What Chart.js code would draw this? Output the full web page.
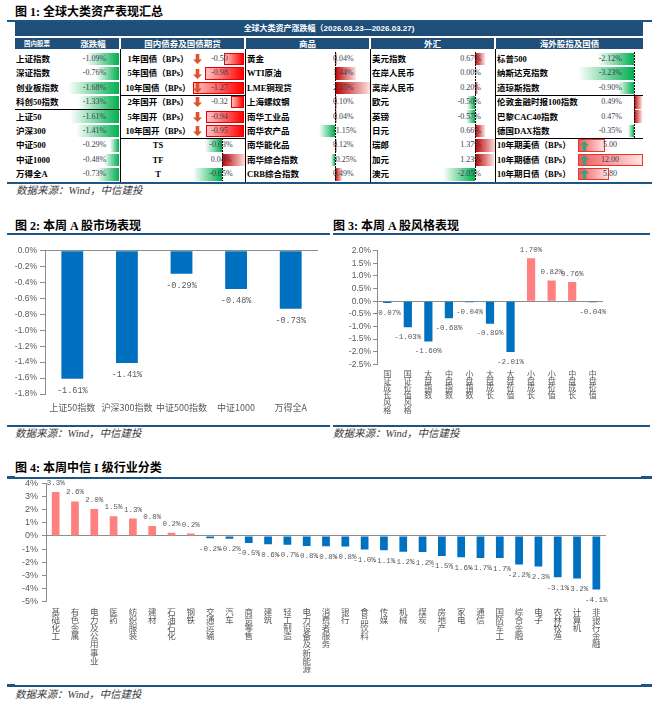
<!DOCTYPE html>
<html><head><meta charset="utf-8">
<script src="https://cdn.jsdelivr.net/npm/chart.js@4.4.1/dist/chart.umd.min.js"></script>
<style>
html,body{margin:0;padding:0;background:#fff;}
body{width:652px;height:706px;position:relative;overflow:hidden;font-family:'Noto Sans CJK SC',sans-serif;}
.abs{position:absolute;box-sizing:border-box;}
.abs svg{display:block;}
.title{position:absolute;font-weight:700;font-size:12px;color:#000;white-space:nowrap;font-family:'Liberation Serif','Noto Sans CJK SC',serif;line-height:14px;}
.rule{position:absolute;height:2px;background:#1f5582;}
.src{position:absolute;font-style:italic;font-size:10.5px;color:#3a3a3a;white-space:nowrap;line-height:11px;font-family:'Liberation Serif','Noto Sans CJK SC',serif;}
canvas{position:absolute;}
</style>
</head>
<body>
<div class="title" style="left:15px;top:5px">图 1: 全球大类资产表现汇总</div>
<div class="rule" style="left:7px;top:20px;width:645px"></div>
<div id="tbl"></div>
<div class="rule" style="left:7px;top:181.5px;width:645px"></div>
<div class="src" style="left:16px;top:184.5px">数据来源：Wind，中信建投</div>

<div class="title" style="left:15px;top:218.7px">图 2: 本周 A 股市场表现</div>
<div class="rule" style="left:7px;top:233px;width:323px"></div>
<div class="title" style="left:333px;top:218.7px">图 3: 本周 A 股风格表现</div>
<div class="rule" style="left:333px;top:233px;width:317px"></div>
<canvas id="c2" width="330" height="186" style="left:0px;top:236px"></canvas>
<canvas id="c3" width="327" height="186" style="left:325px;top:236px"></canvas>
<div class="rule" style="left:7px;top:424.5px;width:323px"></div>
<div class="rule" style="left:333px;top:424.5px;width:317px"></div>
<div class="src" style="left:15px;top:427.5px">数据来源：Wind，中信建投</div>
<div class="src" style="left:333px;top:427.5px">数据来源：Wind，中信建投</div>

<div class="title" style="left:15px;top:461.3px">图 4: 本周中信 I 级行业分类</div>
<div class="rule" style="left:7px;top:476.5px;width:645px"></div>
<div class="rule" style="left:7px;top:475.5px;width:8px;height:3px"></div>
<div class="rule" style="left:641px;top:475.5px;width:11px;height:3px"></div>
<canvas id="c4" width="652" height="214" style="left:0px;top:470px"></canvas>
<div class="rule" style="left:7px;top:685px;width:645px"></div>
<div class="rule" style="left:7px;top:684px;width:8px;height:3px"></div>
<div class="rule" style="left:641px;top:684px;width:11px;height:3px"></div>
<div class="src" style="left:15px;top:688.5px">数据来源：Wind，中信建投</div>

<script>
// ================= DATA =================
const tableTitle = '全球大类资产涨跌幅（2026.03.23—2026.03.27)';
const tableHeaders = ['国内股票', '涨跌幅', '国内债券及国债期货', '商品', '外汇', '海外股指及国债'];

const stockNames = ['上证指数', '深证指数', '创业板指数', '科创50指数', '上证50', '沪深300', '中证500', '中证1000', '万得全A'];
const stockValues = [-1.09, -0.76, -1.68, -1.33, -1.61, -1.41, -0.29, -0.48, -0.73];

const bondNames = ['1年国债（BPs）', '5年国债（BPs）', '10年国债（BPs）', '2年国开（BPs）', '5年国开（BPs）', '10年国开（BPs）'];
const bondValues = [-0.50, -0.98, -1.27, -0.32, -0.94, -0.95];
const futuresNames = ['TS', 'TF', 'T'];
const futuresValues = [-0.03, 0.04, -0.05];

const commodityNames = ['黄金', 'WTI原油', 'LME铜现货', '上海螺纹钢', '南华工业品', '南华农产品', '南华能化品', '南华综合指数', 'CRB综合指数'];
const commodityValues = [0.04, 1.44, 2.45, 0.10, 0.04, -1.15, 0.12, -0.25, 0.49];

const fxNames = ['美元指数', '在岸人民币', '离岸人民币', '欧元', '英镑', '日元', '瑞郎', '加元', '澳元'];
const fxValues = [0.67, 0.00, 0.20, -0.50, -0.57, 0.66, 1.37, 1.23, -2.05];

const overseasNames = ['标普500', '纳斯达克指数', '道琼斯指数', '伦敦金融时报100指数', '巴黎CAC40指数', '德国DAX指数'];
const overseasValues = [-2.12, -3.23, -0.90, 0.49, 0.47, -0.35];
const overseasBondNames = ['10年期美债（BPs）', '10年期德债（BPs）', '10年期日债（BPs）'];
const overseasBondValues = [5.00, 12.00, 5.80];

const fig2Categories = ['上证50指数', '沪深300指数', '中证500指数', '中证1000', '万得全A'];
const fig2Values = [-1.61, -1.41, -0.29, -0.48, -0.73];

const fig3Categories = ['国证成长风格', '国证价值风格', '大盘指数', '中盘指数', '小盘指数', '大盘成长', '大盘价值', '小盘成长', '小盘价值', '中盘成长', '中盘价值'];
const fig3Values = [-0.07, -1.03, -1.60, -0.68, -0.04, -0.89, -2.01, 1.70, 0.82, 0.76, -0.04];

const fig4Categories = ['基础化工', '有色金属', '电力及公用事业', '医药', '纺织服装', '建材', '石油石化', '钢铁', '交通运输', '汽车', '商贸零售', '建筑', '轻工制造', '电力设备及新能源', '消费者服务', '银行', '食品饮料', '传媒', '机械', '煤炭', '房地产', '家电', '通信', '国防军工', '综合金融', '电子', '农林牧渔', '计算机', '非银行金融'];
const fig4Values = [3.34, 2.62, 2.04, 1.50, 1.32, 0.76, 0.24, 0.18, -0.18, -0.21, -0.53, -0.63, -0.68, -0.76, -0.78, -0.80, -1.03, -1.09, -1.21, -1.23, -1.52, -1.62, -1.67, -1.68, -2.17, -2.32, -3.14, -3.24, -4.08];

// ================= TABLE (HTML) =================
const root = document.getElementById('tbl');
const NAVY = '#1f4e79';
const VALCOL = '#3b3b50';
const ROW0 = 51.9, RH = 14.4;
const rowTop = i => ROW0 + i * RH;
const GREEN_L = 'linear-gradient(to right, #ffffff, #00b050)';   // negative bar, axis on right
const RED_R = 'linear-gradient(to right, #c00000, #fbe2e2)';     // positive bar, axis on left

function box(x, y, w, h, style) {
  const d = document.createElement('div');
  d.className = 'abs';
  Object.assign(d.style, {left: x + 'px', top: y + 'px', width: w + 'px', height: h + 'px'}, style || {});
  root.appendChild(d);
  return d;
}
function txt(s, x, y, w, h, align, style) {
  const d = box(x, y, w, h, Object.assign({lineHeight: h + 'px', textAlign: align, whiteSpace: 'nowrap'}, style || {}));
  d.textContent = s;
  return d;
}
const nameStyle = {fontFamily: "'Liberation Serif','Noto Sans CJK SC',serif", fontWeight: '700', fontSize: '8.5px', color: '#000'};
const valStyle = {fontFamily: "'Liberation Serif',serif", fontSize: '8px', color: VALCOL};
function dashed(x, y1, y2) {
  box(x, y1, 1, y2 - y1, {background: 'repeating-linear-gradient(to bottom, #000 0px, #000 2px, transparent 2px, transparent 3px)'});
}
function hline(x1, x2, y) { box(x1, y, x2 - x1, 1, {background: '#000'}); }
function vline(x, y1, y2) { box(x, y1, 1, y2 - y1, {background: '#000'}); }
function arrow(x, y, up) {
  const d = box(x, y, 9, 10, {overflow: 'hidden'});
  const color = up ? '#3f9f7a' : '#e0522a';
  const path = up ? 'M4.5 0 L9 4.5 L6.3 4.5 L6.3 10 L2.7 10 L2.7 4.5 L0 4.5 Z' : 'M2.7 0 L6.3 0 L6.3 5.5 L9 5.5 L4.5 10 L0 5.5 L2.7 5.5 Z';
  d.innerHTML = '<svg width="9" height="10" viewBox="0 0 9 10"><path d="' + path + '" fill="' + color + '"/></svg>';
}
function dataBar(axisX, i, v, pxPer) {
  const w = Math.max(Math.abs(v) * pxPer, v === 0 ? 0 : 1.5);
  if (w === 0) return;
  const y = rowTop(i) + 0.8, h = RH - 1.6;
  if (v < 0) box(axisX - w, y, w, h, {background: GREEN_L});
  else box(axisX, y, w, h, {background: RED_R});
}

// headers
box(15, 22.3, 628, 14.2, {background: NAVY});
txt(tableTitle, 15, 22.3, 628, 14.2, 'center', {color: '#fff', fontWeight: '700', fontSize: '8px', fontFamily: "'Liberation Sans','Noto Sans CJK SC',sans-serif"});
const hdrSegs = [[15, 119], [121, 244], [246, 369], [371, 494], [496, 643]];
hdrSegs.forEach(s => box(s[0], 37.5, s[1] - s[0], 11.5, {background: NAVY}));
const hdrWhite = {color: '#fff', fontWeight: '700', fontSize: '8.5px'};
txt(tableHeaders[0], 15, 37.5, 44, 11.5, 'center', Object.assign({}, hdrWhite, {fontSize: '6.5px'}));
txt(tableHeaders[1], 70, 37.5, 46, 11.5, 'center', hdrWhite);
txt(tableHeaders[2], 121, 37.5, 123, 11.5, 'center', hdrWhite);
txt(tableHeaders[3], 246, 37.5, 123, 11.5, 'center', hdrWhite);
txt(tableHeaders[4], 371, 37.5, 123, 11.5, 'center', hdrWhite);
txt(tableHeaders[5], 496, 37.5, 147, 11.5, 'center', hdrWhite);

// domestic stocks
stockNames.forEach((n, i) => txt(n, 16, rowTop(i), 60, RH, 'left', nameStyle));
stockValues.forEach((v, i) => {
  const w = Math.abs(v) * 30.5;
  box(119 - w, rowTop(i) + 0.8, w, RH - 1.6, {background: GREEN_L});
  txt(v.toFixed(2) + '%', 70, rowTop(i), 49, RH, 'center', valStyle);
});

// domestic bonds
bondNames.forEach((n, i) => txt(n, 122, rowTop(i), 72, RH, 'center', nameStyle));
bondValues.forEach((v, i) => {
  const w = Math.abs(v) * 40;
  box(244 - w, rowTop(i) + 1, w, RH - 2, {background: 'linear-gradient(to right, #ffc4c4, #ff0000)', border: '1px solid #e80000'});
  arrow(193, rowTop(i) + 2.2, v > 0);
  txt(v.toFixed(2), 205, rowTop(i), 29, RH, 'center', valStyle);
});
// bond futures
futuresNames.forEach((n, k) => txt(n, 122, rowTop(6 + k), 72, RH, 'center', nameStyle));
futuresValues.forEach((v, k) => {
  dataBar(222, 6 + k, v, 580);
  txt(v.toFixed(2) + '%', 206, rowTop(6 + k), 30, RH, 'center', valStyle);
});
dashed(222, rowTop(6), rowTop(9));

// commodities
commodityNames.forEach((n, i) => txt(n, 247, rowTop(i), 85, RH, 'left', nameStyle));
commodityValues.forEach((v, i) => {
  dataBar(335, i, v, 14.3);
  txt(v.toFixed(2) + '%', 333, rowTop(i), 36, RH, 'left', valStyle);
});
dashed(335, rowTop(0), rowTop(9));

// FX
fxNames.forEach((n, i) => txt(n, 372, rowTop(i), 70, RH, 'left', nameStyle));
fxValues.forEach((v, i) => {
  dataBar(475, i, v, 15.5);
  txt(v.toFixed(2) + '%', 445, rowTop(i), 36, RH, 'right', valStyle);
});
dashed(475, rowTop(0), rowTop(9));

// overseas equities
overseasNames.forEach((n, i) => txt(n, 497, rowTop(i), 100, RH, 'left', nameStyle));
overseasValues.forEach((v, i) => {
  dataBar(634, i, v, 17.3);
  txt(v.toFixed(2) + '%', 584, rowTop(i), 38, RH, 'right', valStyle);
});
dashed(634, rowTop(0), rowTop(6));
// overseas bonds
overseasBondNames.forEach((n, k) => txt(n, 497, rowTop(6 + k), 80, RH, 'left', nameStyle));
overseasBondValues.forEach((v, k) => {
  const w = Math.abs(v) * 5.4;
  box(578, rowTop(6 + k) + 1, w, RH - 2, {background: 'linear-gradient(to right, #f25a5a, #ffe4e4)', border: '1px solid #ee3333'});
  arrow(580, rowTop(6 + k) + 2.2, v > 0);
  txt(v.toFixed(2), 596, rowTop(6 + k), 28, RH, 'center', valStyle);
});

// grid lines of the table
[120, 245, 370, 495].forEach(x => vline(x, 49, 181.5));
hline(15, 120, rowTop(4) - 0.5);
hline(120, 245, rowTop(3) - 0.5);
hline(120, 245, rowTop(6) - 0.5);
hline(495, 643, rowTop(3) - 0.5);
hline(495, 643, rowTop(6) - 0.5);

// ================= CHARTS =================
const NEG = '#0070c0', POS = '#ff8080', AXIS = '#8c8c8c', LBL = '#595959';
const CJK = "'Noto Sans CJK SC', sans-serif";
const SANS = "'Liberation Sans', Arial, sans-serif";
const MONO = "'Liberation Mono', 'DejaVu Sans Mono', monospace";

const barLabels = {
  id: 'barLabels',
  afterDatasetsDraw(chart, args, o) {
    const ctx = chart.ctx;
    const meta = chart.getDatasetMeta(0);
    const data = chart.data.datasets[0].data;
    ctx.save();
    ctx.font = o.size + 'px ' + MONO;
    ctx.fillStyle = LBL;
    ctx.textAlign = 'center';
    ctx.textBaseline = 'middle';
    meta.data.forEach((bar, i) => {
      const v = data[i];
      const y = v >= 0 ? bar.y - o.above : bar.y + o.below;
      ctx.fillText(v.toFixed(o.decimals) + '%', bar.x, y);
    });
    ctx.restore();
  }
};

function makeChart(id, cats, vals, c) {
  new Chart(document.getElementById(id), {
    type: 'bar',
    data: {
      labels: c.vertical ? cats.map(s => Array.from(s)) : cats,
      datasets: [{data: vals, backgroundColor: vals.map(v => v >= 0 ? POS : NEG), borderWidth: 0, barPercentage: 0.4, categoryPercentage: 1}]
    },
    options: {
      responsive: false, animation: false, devicePixelRatio: 1,
      layout: {padding: c.padding},
      plugins: {legend: {display: false}, tooltip: {enabled: false},
        barLabels: {size: c.lblSize, above: c.above, below: c.below, decimals: c.decimals}},
      scales: {
        x: {
          grid: {display: false, drawTicks: false}, border: {display: false},
          ticks: {autoSkip: false, maxRotation: 0, minRotation: 0, padding: c.xPad, color: LBL,
                  font: {family: CJK, size: c.xSize, lineHeight: c.xLH}},
          afterFit: s => { s.height = c.xH; }
        },
        y: {
          min: c.min, max: c.max,
          ticks: {autoSkip: false, stepSize: c.step, padding: c.yPad, color: LBL, font: {family: SANS, size: c.ySize},
                  callback: v => (c.yDec === 0 ? Math.round(v) : v.toFixed(c.yDec)) + '%'},
          grid: {color: g => (g.tick && Math.abs(g.tick.value) < 1e-9) ? AXIS : 'rgba(0,0,0,0)', tickColor: AXIS, tickLength: c.tl, drawTicks: true},
          border: {display: true, color: AXIS},
          afterFit: s => { s.width = c.yW; }
        }
      }
    },
    plugins: [barLabels]
  });
}

makeChart('c2', fig2Categories, fig2Values, {
  padding: {top: 14.7, right: 12, bottom: 0, left: 0},
  min: -1.8, max: 0, step: 0.2, yDec: 1, ySize: 8.5, yPad: 3, tl: 5, yW: 45,
  xSize: 9, xLH: 1.2, xPad: 8.3, xH: 28, vertical: false,
  lblSize: 8.5, above: 9, below: 11.5, decimals: 2
});
makeChart('c3', fig3Categories, fig3Values, {
  padding: {top: 14.7, right: 49, bottom: 0, left: 0},
  min: -2.5, max: 2, step: 0.5, yDec: 1, ySize: 8.5, yPad: 2, tl: 4, yW: 52,
  xSize: 8, xLH: 0.9, xPad: 5.7, xH: 57.7, vertical: true,
  lblSize: 7.5, above: 8.3, below: 9.7, decimals: 2
});
makeChart('c4', fig4Categories, fig4Values, {
  padding: {top: 13.3, right: 46, bottom: 0, left: 0},
  min: -5, max: 4, step: 1, yDec: 0, ySize: 9, yPad: 4, tl: 4, yW: 46,
  xSize: 8.5, xLH: 0.95, xPad: 6.2, xH: 82.3, vertical: true,
  lblSize: 7.5, above: 9, below: 10.5, decimals: 1
});
</script>
</body></html>
